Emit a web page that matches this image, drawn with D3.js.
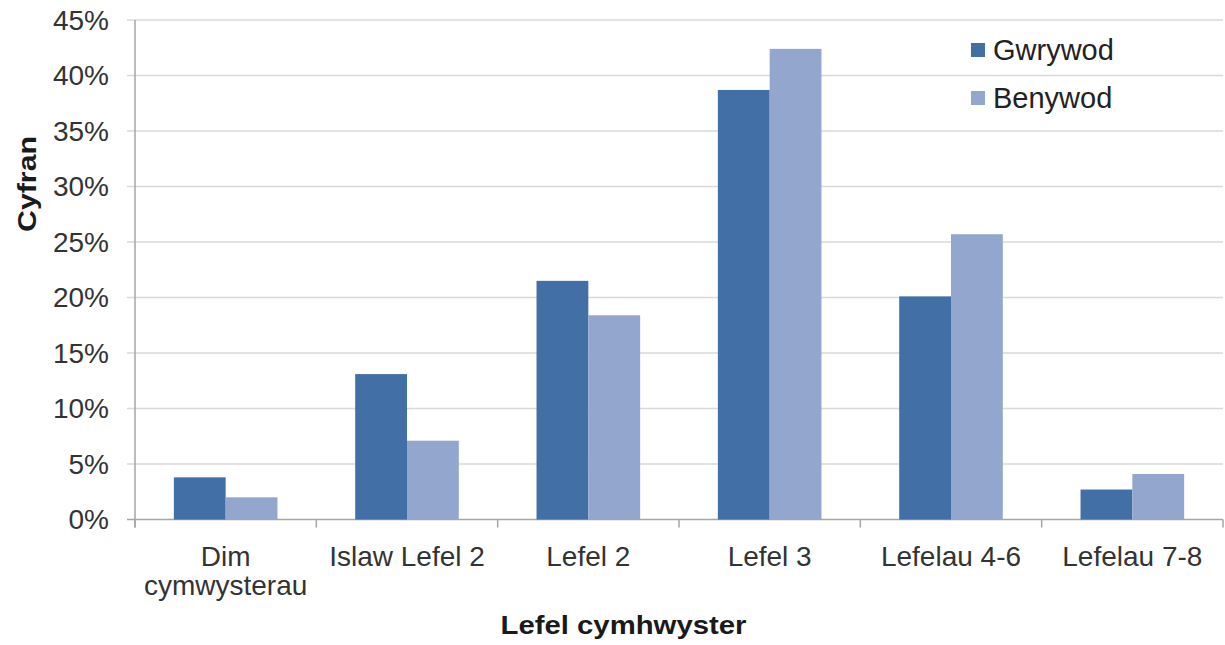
<!DOCTYPE html>
<html>
<head>
<meta charset="utf-8">
<script src="https://cdn.jsdelivr.net/npm/d3@7"></script>
<style>
  html, body { margin: 0; padding: 0; background: #fff; }
  svg { display: block; font-family: "Liberation Sans", Arial, sans-serif; }
</style>
</head>
<body>
<svg id="chart" width="1225" height="645"></svg>
<script>
const categories = [["Dim", "cymwysterau"], ["Islaw Lefel 2"], ["Lefel 2"], ["Lefel 3"], ["Lefelau 4-6"], ["Lefelau 7-8"]];
const seriesNames = ["Gwrywod", "Benywod"];
const gwrywod = [3.8, 13.1, 21.5, 38.7, 20.1, 2.7];
const benywod = [2.0, 7.1, 18.4, 42.4, 25.7, 4.1];
const yTicks = [0, 5, 10, 15, 20, 25, 30, 35, 40, 45];
const colors = ["#416FA6", "#93A7CE"];

(function () {
const svg = d3.select("#chart");
const pLeft = 135, pRight = 1223, pTop = 20, pBottom = 519.5;

const x = d3.scaleBand().domain(d3.range(categories.length)).range([pLeft, pRight]).paddingInner(0).paddingOuter(0);
const inner = d3.scaleBand().domain(d3.range(seriesNames.length)).range([0, x.bandwidth()]).paddingInner(0).paddingOuter(0.75);
const y = d3.scaleLinear().domain([0, 45]).range([pBottom, pTop]);

// gridlines
svg.append("g").selectAll("line").data(yTicks).join("line")
  .attr("x1", pLeft - 8).attr("x2", pRight)
  .attr("y1", d => y(d)).attr("y2", d => y(d))
  .attr("stroke", d => d === 0 ? "#a6a6a6" : "#d9d9d9").attr("stroke-width", 1.5);

// y axis line
svg.append("line").attr("x1", pLeft).attr("x2", pLeft).attr("y1", pTop).attr("y2", pBottom + 8)
  .attr("stroke", "#a6a6a6").attr("stroke-width", 1.5);

// x ticks at band boundaries
const bounds = d3.range(categories.length + 1).map(i => i < categories.length ? x(i) : pRight);
svg.append("g").selectAll("line").data(bounds).join("line")
  .attr("x1", d => d).attr("x2", d => d).attr("y1", pBottom).attr("y2", pBottom + 8)
  .attr("stroke", "#a6a6a6").attr("stroke-width", 1.5);

// y tick labels
svg.append("g").selectAll("text").data(yTicks).join("text")
  .attr("x", 109).attr("y", d => y(d)).attr("dy", "0.35em")
  .attr("text-anchor", "end").attr("font-size", 28).attr("fill", "#333")
  .text(d => d + "%");

// bars
const series = [gwrywod, benywod];
series.forEach((vals, s) => {
  svg.append("g").selectAll("rect").data(vals).join("rect")
    .attr("x", (d, i) => x(i) + inner(s))
    .attr("width", inner.bandwidth())
    .attr("y", d => y(d))
    .attr("height", d => pBottom - y(d))
    .attr("fill", colors[s]);
});

// category labels
const cat = svg.append("g").selectAll("text").data(categories).join("text")
  .attr("x", (d, i) => x(i) + x.bandwidth() / 2)
  .attr("y", 566)
  .attr("text-anchor", "middle").attr("font-size", 28).attr("fill", "#333");
cat.selectAll("tspan").data(d => d).join("tspan")
  .attr("x", function() { return d3.select(this.parentNode).attr("x"); })
  .attr("dy", (d, i) => i === 0 ? 0 : 29)
  .text(d => d);

// axis titles
svg.append("text").attr("x", 623.5).attr("y", 634)
  .attr("text-anchor", "middle").attr("font-size", 25).attr("font-weight", "bold").attr("fill", "#1a1a1a")
  .attr("textLength", 246).attr("lengthAdjust", "spacingAndGlyphs")
  .text("Lefel cymhwyster");

svg.append("text").attr("transform", "translate(36,184) rotate(-90)")
  .attr("text-anchor", "middle").attr("font-size", 26).attr("font-weight", "bold").attr("fill", "#1a1a1a")
  .attr("textLength", 96).attr("lengthAdjust", "spacingAndGlyphs")
  .text("Cyfran");

// legend
const leg = svg.append("g").selectAll("g").data(seriesNames).join("g")
  .attr("transform", (d, i) => `translate(971,${43 + i * 48})`);
leg.append("rect").attr("width", 14).attr("height", 14).attr("fill", (d, i) => colors[i]);
leg.append("text").attr("x", 22).attr("y", 7).attr("dy", "0.35em")
  .attr("font-size", 29).attr("fill", "#222").text(d => d);
})();
</script>
</body>
</html>
